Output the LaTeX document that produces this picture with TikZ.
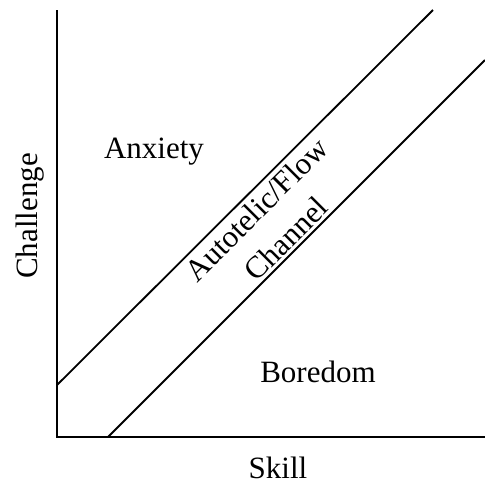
\documentclass[tikz,border=0pt]{standalone}
\usepackage{fontspec}
\setmainfont{Liberation Serif}
\usetikzlibrary{calc}

\tikzset{
  axis/.style={line width=1.8pt},
  zone/.style={font=\fontsize{31}{42}\selectfont, inner sep=0pt}
}

\begin{document}
\begin{tikzpicture}[x=1pt, y=-1pt]
  \useasboundingbox (0,0) rectangle (485,483);
  % axes
  \coordinate (top) at (57,10);
  \coordinate (O) at (57,437);
  \coordinate (right) at (485,437);
  \draw[axis] (top) -- (O) -- (right);
  % flow channel borders
  \coordinate (u1) at (57,385);
  \coordinate (u2) at (433,10);
  \coordinate (l1) at (108,437);
  \coordinate (l2) at (485,60);
  \draw[axis] (u1) -- (u2);
  \draw[axis] (l1) -- (l2);
  % labels
  \node[zone, anchor=base] (anx) at (154,158) {Anxiety};
  \node[zone, anchor=base] (bore) at (318,382) {Boredom};
  \node[zone, anchor=base] (skill) at (278,478) {Skill};
  \node[zone, anchor=base, rotate=90] (chal) at (37,216) {Challenge};
  \node[zone, align=center, rotate=45] (flow) at (271,224) {Autotelic/Flow\\Channel};
\end{tikzpicture}
\end{document}
